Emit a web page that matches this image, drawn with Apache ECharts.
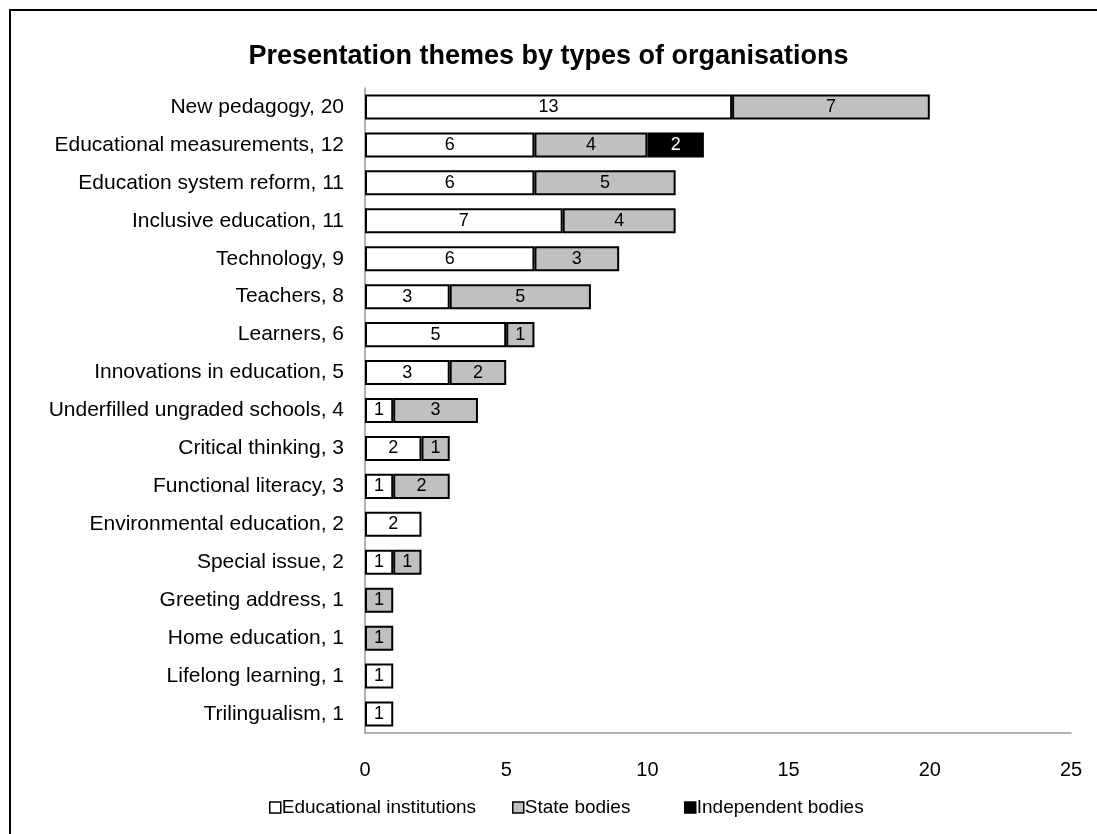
<!DOCTYPE html>
<html>
<head>
<meta charset="utf-8">
<script src="https://cdn.jsdelivr.net/npm/echarts@6/dist/echarts.min.js"></script>
<style>html,body{margin:0;padding:0;background:#fff}#c{width:1097px;height:834px}</style>
</head>
<body>
<div id="c"></div>
<script>
const categories = ["New pedagogy, 20","Educational measurements, 12","Education system reform, 11","Inclusive education, 11","Technology, 9","Teachers, 8","Learners, 6","Innovations in education, 5","Underfilled ungraded schools, 4","Critical thinking, 3","Functional literacy, 3","Environmental education, 2","Special issue, 2","Greeting address, 1","Home education, 1","Lifelong learning, 1","Trilingualism, 1"];
const educational = [13,6,6,7,6,3,5,3,1,2,1,2,1,null,null,1,1];
const stateBodies = [7,4,5,4,3,5,1,2,3,1,2,null,1,1,1,null,null];
const independent = [null,2,null,null,null,null,null,null,null,null,null,null,null,null,null,null,null];
const seriesNames = ['Educational institutions','State bodies','Independent bodies'];
const xTicks = [0,5,10,15,20,25];

const font = "'Liberation Sans', Arial, sans-serif";
const fills = ['#fff','#c0c0c0','#000'];
const chart = echarts.init(document.getElementById('c'), null, {renderer:'canvas'});
function mk(name, data, color, labelColor){
  return {
    name, type:'bar', stack:'total', data, barWidth:'66%',
    itemStyle:{color, borderColor:'#000', borderWidth:2},
    label:{show:true, position:'inside', color:labelColor, fontFamily:font, fontSize:18},
    emphasis:{disabled:true}
  };
}
const legendLefts = [264, 507, 679];
const legends = seriesNames.map((n,i)=>({
  top:793, left:legendLefts[i], itemWidth:11, itemHeight:11, icon:'rect',
  textStyle:{fontFamily:font, fontSize:19, color:'#000', padding:[0,0,0,-4]},
  data:[{name:n, itemStyle:{color:fills[i], borderColor:'#000', borderWidth:1.5}}]
}));
chart.setOption({
  animation:false,
  backgroundColor:'#fff',
  graphic:[{type:'rect', shape:{x:10, y:10, width:1200, height:1000}, style:{fill:'none', stroke:'#000', lineWidth:2}, silent:true}],
  title:{text:'Presentation themes by types of organisations', left:'center', top:38,
    textStyle:{fontFamily:font, fontSize:27, fontWeight:'bold', color:'#000'}},
  grid:{left:365, top:88, width:706, height:645, containLabel:false},
  legend:legends,
  xAxis:{type:'value', min:xTicks[0], max:xTicks[xTicks.length-1], interval:5,
    axisLine:{show:true, lineStyle:{color:'#999', width:1.5}},
    axisTick:{show:false}, splitLine:{show:false},
    axisLabel:{fontFamily:font, fontSize:20, color:'#000', margin:27}},
  yAxis:{type:'category', data:categories, inverse:true,
    axisLine:{show:true, lineStyle:{color:'#999', width:1.5}},
    axisTick:{show:false},
    axisLabel:{fontFamily:font, fontSize:21, color:'#000', margin:21}},
  series:[
    mk(seriesNames[0], educational, fills[0], '#000'),
    mk(seriesNames[1], stateBodies, fills[1], '#000'),
    mk(seriesNames[2], independent, fills[2], '#fff')
  ]
});
</script>
</body>
</html>
